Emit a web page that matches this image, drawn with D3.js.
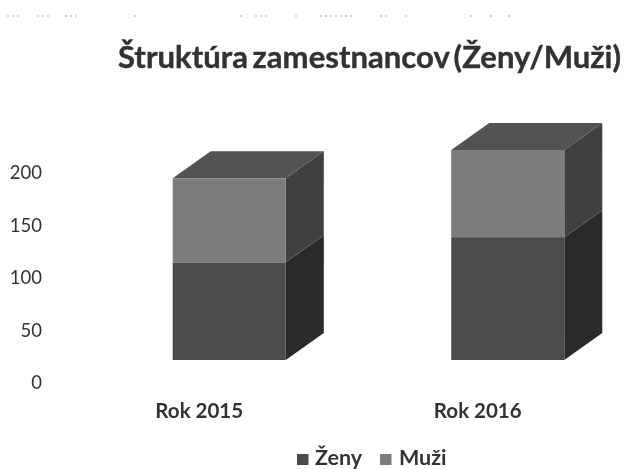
<!DOCTYPE html>
<html>
<head>
<meta charset="utf-8">
<script src="https://cdn.jsdelivr.net/npm/d3@7"></script>
<style>
  html, body { margin: 0; padding: 0; background: #fff; }
  svg { display: block; font-family: Lato, sans-serif; }
</style>
</head>
<body>
<svg id="chart" width="624" height="469"></svg>
<script>
const years = ["Rok 2015", "Rok 2016"];
const zeny = [93, 117];
const muzi = [80, 83];
const seriesNames = ["Ženy", "Muži"];
const yTicks = [0, 50, 100, 150, 200];
const titleText = "Štruktúra zamestnancov (Ženy/Muži)";

const svg = d3.select("#chart");
const inkColor = "#333";

// scan looks a bit soft, so everything goes through a small blur
svg.append("defs").append("filter")
    .attr("id", "soft")
    .append("feGaussianBlur")
    .attr("stdDeviation", 0.5);

const root = svg.append("g").attr("filter", "url(#soft)");

const x = d3.scaleBand()
    .domain(years)
    .range([60, 617])
    .paddingInner(0.594)
    .paddingOuter(0.297);

const y = d3.scaleLinear()
    .domain([0, 200])
    .range([382, 172]);

// 3d projection: front plane sits up and to the right of the axis, depth goes further
const front = {dx: 30, dy: -22};
const depth = {dx: 38, dy: -27};

const stacks = d3.stack().keys(seriesNames)(
  years.map((year, i) => ({year: year, "Ženy": zeny[i], "Muži": muzi[i]}))
);

const faceColors = {
  "Ženy": {front: "#4b4b4b", side: "#2a2a2a"},
  "Muži": {front: "#7b7b7b", side: "#414141"}
};
const topColor = "#535353";

const bars = root.append("g").attr("transform", `translate(${front.dx},${front.dy})`);

stacks.forEach(serie => {
  const col = faceColors[serie.key];
  const g = bars.append("g").attr("class", "serie");

  // side face
  g.selectAll("path.side").data(serie).enter().append("path")
      .attr("class", "side")
      .attr("fill", col.side)
      .attr("d", d => {
        const xr = x(d.data.year) + x.bandwidth();
        const y0 = y(d[0]), y1 = y(d[1]);
        return `M${xr},${y0}L${xr + depth.dx},${y0 + depth.dy}L${xr + depth.dx},${y1 + depth.dy}L${xr},${y1}Z`;
      });

  // front face
  g.selectAll("rect").data(serie).enter().append("rect")
      .attr("x", d => x(d.data.year))
      .attr("y", d => y(d[1]))
      .attr("width", x.bandwidth())
      .attr("height", d => y(d[0]) - y(d[1]))
      .attr("fill", col.front);
});

// top face on the last serie only
bars.append("g").selectAll("path").data(stacks[stacks.length - 1]).enter().append("path")
    .attr("fill", topColor)
    .attr("d", d => {
      const xl = x(d.data.year), xr = xl + x.bandwidth(), yt = y(d[1]);
      return `M${xl},${yt}L${xl + depth.dx},${yt + depth.dy}L${xr + depth.dx},${yt + depth.dy}L${xr},${yt}Z`;
    });

// axes
const yAxis = root.append("g")
    .attr("transform", "translate(42,1)")
    .call(d3.axisLeft(y).tickValues(yTicks).tickSize(0).tickPadding(0));
yAxis.select(".domain").remove();
yAxis.selectAll("text")
    .attr("fill", inkColor)
    .style("font-family", "Lato, sans-serif")
    .style("font-size", "18.5px");

const xAxis = root.append("g")
    .attr("transform", "translate(0,403)")
    .call(d3.axisBottom(x).tickSize(0).tickPadding(0));
xAxis.select(".domain").remove();
xAxis.selectAll("text")
    .attr("fill", inkColor)
    .style("font-family", "Lato, sans-serif")
    .style("font-size", "20.5px")
    .style("font-weight", "700");

// title
root.append("text")
    .attr("x", 118)
    .attr("y", 68)
    .attr("fill", inkColor)
    .attr("stroke", inkColor)
    .attr("stroke-width", 0.4)
    .attr("word-spacing", -3)
    .style("font-size", "31.1px")
    .style("font-weight", "700")
    .text(titleText);

// legend
const legendX = d3.scalePoint().domain(seriesNames).range([297, 380]);
const legend = root.append("g").selectAll("g").data(seriesNames).enter().append("g")
    .attr("transform", d => `translate(${legendX(d)},454)`);
legend.append("rect")
    .attr("width", 11.5)
    .attr("height", 11)
    .attr("fill", d => faceColors[d].front);
legend.append("text")
    .attr("x", (d, i) => i === 0 ? 18 : 19)
    .attr("y", 11)
    .attr("fill", inkColor)
    .style("font-size", "21.5px")
    .style("font-weight", "700")
    .text(d => d);

// faint specks left over from the scan along the top edge
const speckSpans = [[7, 20], [37, 50], [65, 78], [134, 136], [240, 242], [255, 270], [295, 300], [320, 355], [380, 390], [405, 408], [470, 472], [490, 493], [508, 510]];
svg.append("g").selectAll("line").data(speckSpans).enter().append("line")
    .attr("x1", d => d[0])
    .attr("x2", d => d[1])
    .attr("y1", 16)
    .attr("y2", 16)
    .attr("stroke", "#c4c4c4")
    .attr("stroke-width", 1.5)
    .attr("stroke-dasharray", "2 3");
</script>
</body>
</html>
